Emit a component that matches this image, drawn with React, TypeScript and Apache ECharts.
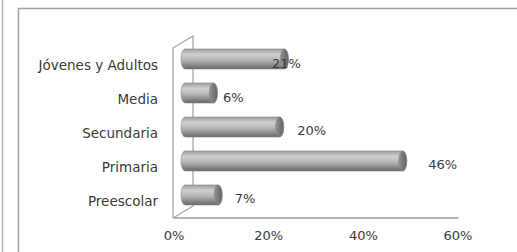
import React, { useEffect, useRef } from "react";
import * as echarts from "echarts";

// Data (bottom to top, as the category axis draws them)
const categories = ["Preescolar", "Primaria", "Secundaria", "Media", "Jóvenes y Adultos"];
const percentages = [7, 46, 20, 6, 21];
const tickLabels = ["0%", "20%", "40%", "60%"];

// Styling helpers (label nudges, not data)
const labelDx = [38, 51, 43, 31, 13];
const labelDy = [-3, -3, -3, -2, -2];

const FONT = "DejaVu Sans";
const TEXT = "#3a3a3a";
const GRID_LEFT = 174;
const GRID_TOP = 48;
const GRID_H = 170;
const GRID_RIGHT_PX = 458;

export default function App() {
  const ref = useRef<HTMLDivElement>(null);
  useEffect(() => {
    if (!ref.current) return;
    const chart = echarts.init(ref.current, undefined, { renderer: "svg" });
    const bottom = GRID_TOP + GRID_H;
    const depthX = 20;
    const depthY = 12;
    const wallX = GRID_LEFT - 1;

    const option: any = {
      animation: false,
      backgroundColor: "#ffffff",
      grid: {
        left: GRID_LEFT,
        top: GRID_TOP,
        width: GRID_RIGHT_PX - GRID_LEFT,
        height: GRID_H,
        containLabel: false,
      },
      xAxis: {
        type: "value",
        min: 0,
        max: 60,
        interval: 20,
        axisLine: { show: true, lineStyle: { color: "#9c9c9c", width: 1.5 } },
        axisTick: { show: false },
        splitLine: { show: false },
        axisLabel: {
          margin: 11,
          color: TEXT,
          fontFamily: FONT,
          fontSize: 13,
          formatter: (v: number) => tickLabels[Math.round(v / 20)] ?? v + "%",
        },
      },
      yAxis: {
        type: "category",
        data: categories,
        axisLine: { show: false },
        axisTick: { show: false },
        splitLine: { show: false },
        axisLabel: { margin: 16, color: TEXT, fontFamily: FONT, fontSize: 13.5 },
      },
      graphic: [
        {
          type: "line",
          z: 0,
          shape: { x1: 2.5, y1: 0, x2: 2.5, y2: 252 },
          style: { stroke: "#b0b0b0", lineWidth: 1.5 },
        },
        {
          type: "rect",
          z: 0,
          shape: { x: 18.5, y: 8.5, width: 620, height: 320 },
          style: { fill: "none", stroke: "#a0a0a0", lineWidth: 1.5 },
        },
        {
          type: "polyline",
          z: 0,
          shape: {
            points: [
              [wallX, bottom],
              [wallX, GRID_TOP],
              [wallX + depthX, GRID_TOP - depthY],
              [wallX + depthX, bottom - depthY],
              [wallX, bottom],
            ],
          },
          style: { fill: "none", stroke: "#a0a0a0", lineWidth: 1.2 },
        },
      ],
      series: [
        {
          type: "custom",
          z: 5,
          data: percentages.map((v, i) => [v, i]),
          encode: { x: 0, y: 1 },
          renderItem: (params: any, api: any) => {
            const v = api.value(0);
            const idx = api.value(1);
            const p0 = api.coord([0, idx]);
            const p1 = api.coord([v, idx]);
            const dx = 11;
            const dy = -6;
            const rx = 4;
            const ry = 10;
            const x0 = p0[0] + dx;
            const x1 = p1[0] + dx;
            const yc = p0[1] + dy;
            const yt = yc - ry;
            const yb = yc + ry;
            const body = `M${x0},${yt} L${x1},${yt} A${rx},${ry} 0 0 1 ${x1},${yb} L${x0},${yb} A${rx},${ry} 0 0 1 ${x0},${yt} Z`;
            const cap = `M${x1},${yt} A${rx},${ry} 0 0 1 ${x1},${yb} A${rx},${ry} 0 0 1 ${x1},${yt} Z`;
            const bodyFill = new echarts.graphic.LinearGradient(0, 0, 0, 1, [
              { offset: 0, color: "#9c9c9c" },
              { offset: 0.28, color: "#cfcfcf" },
              { offset: 0.55, color: "#b6b6b6" },
              { offset: 1, color: "#686868" },
            ]);
            const capFill = new echarts.graphic.LinearGradient(0, 0, 1, 0, [
              { offset: 0, color: "#929292" },
              { offset: 1, color: "#626262" },
            ]);
            const pi = params.dataIndex;
            return {
              type: "group",
              children: [
                {
                  type: "path",
                  shape: { pathData: body },
                  style: { fill: bodyFill, stroke: "#858585", lineWidth: 0.6 },
                },
                {
                  type: "path",
                  shape: { pathData: cap },
                  style: { fill: capFill, stroke: "#858585", lineWidth: 0.6 },
                },
                {
                  type: "text",
                  z2: 10,
                  x: p1[0] + labelDx[pi],
                  y: p0[1] + labelDy[pi],
                  style: {
                    text: v + "%",
                    fill: TEXT,
                    fontFamily: FONT,
                    fontSize: 13,
                    align: "center",
                    verticalAlign: "middle",
                  },
                },
              ],
            };
          },
        },
      ],
    };
    chart.setOption(option);
    return () => chart.dispose();
  }, []);
  return (
    <div
      ref={ref}
      style={{ position: "absolute", left: 0, top: 0, width: 517, height: 252 }}
    />
  );
}
